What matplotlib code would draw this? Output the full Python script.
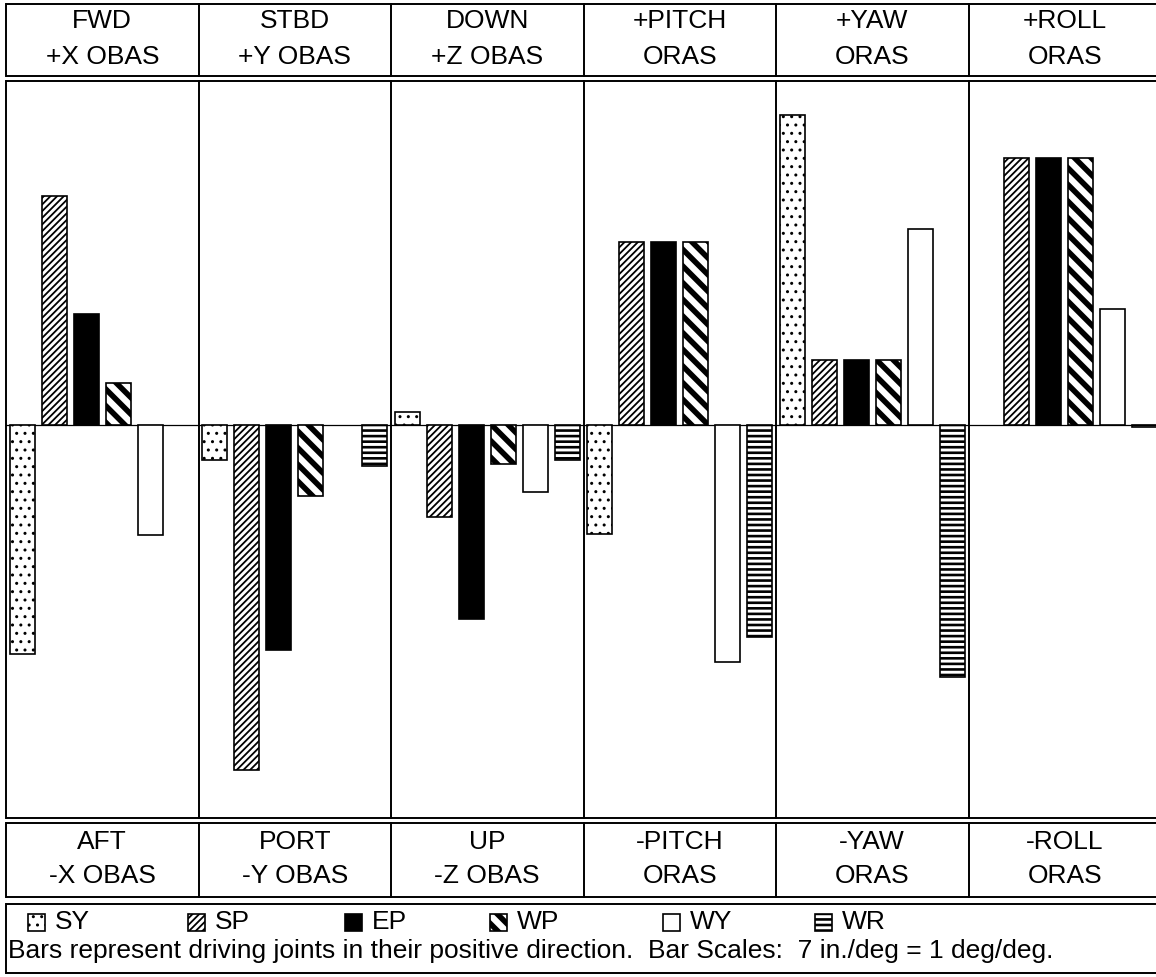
import numpy as np
import matplotlib.pyplot as plt
from matplotlib.patches import Rectangle

plt.rcParams['font.family'] = ['Liberation Sans', 'DejaVu Sans']

W, H = 1156, 977

joints = ['SY', 'SP', 'EP', 'WP', 'WY', 'WR']
top_labels = [('FWD', '+X OBAS'), ('STBD', '+Y OBAS'), ('DOWN', '+Z OBAS'),
              ('+PITCH', 'ORAS'), ('+YAW', 'ORAS'), ('+ROLL', 'ORAS')]
bottom_labels = [('AFT', '-X OBAS'), ('PORT', '-Y OBAS'), ('UP', '-Z OBAS'),
                 ('-PITCH', 'ORAS'), ('-YAW', 'ORAS'), ('-ROLL', 'ORAS')]

# bar length per joint, one value per panel (X, Y, Z, PITCH, YAW, ROLL)
# 0 = joint not drawn in that panel
SY = [-2.29, -0.35, 0.13, -1.09, 3.10, 0.0]
SP = [2.29, -3.45, -0.92, 1.83, 0.65, 2.67]
EP = [1.11, -2.25, -1.94, 1.83, 0.65, 2.67]
WP = [0.42, -0.71, -0.39, 1.83, 0.65, 2.67]
WY = [-1.10, 0.0, -0.67, -2.37, 1.96, 1.16]
WR = [0.0, -0.41, -0.35, -2.12, -2.52, -0.02]
values = [SY, SP, EP, WP, WY, WR]

note = 'Bars represent driving joints in their positive direction.  Bar Scales:  7 in./deg = 1 deg/deg.'

# fill / hatch / hatch line width for each joint
styles = {
    'SY': ('white', '..', 1.0),
    'SP': ('white', '/////', 1.3),
    'EP': ('black', None, 1.0),
    'WP': ('white', '\\\\', 4.0),
    'WY': ('white', None, 1.0),
    'WR': ('white', '---', 1.9),
}

# layout in pixels
x_left, x_right = 6, 1161
y_top = 4
y_head = (76, 81)
y_foot = (818, 823)
y_foot_bot = 897
y_leg = (904, 973)
panel_w = (x_right - x_left) / 6

fig = plt.figure(figsize=(W / 100, H / 100), dpi=100)

# bar area
ax = fig.add_axes([x_left / W, 1 - y_foot[0] / H, (x_right - x_left) / W,
                   (y_foot[0] - y_head[1]) / H])
ax.set_xlim(0, 36)
ax.set_ylim(-3.93, 3.44)
ax.axis('off')
ax.axhline(0, color='black', lw=0.9, zorder=1)

for j, name in enumerate(joints):
    fc, hatch, hlw = styles[name]
    x = np.arange(6) * 6 + j + 0.5
    h = np.array(values[j], dtype=float)
    h[h == 0] = np.nan
    with plt.rc_context({'hatch.linewidth': hlw, 'hatch.color': 'black'}):
        bars = ax.bar(x, h, width=0.78, color=fc, edgecolor='black',
                      linewidth=1.2, hatch=hatch, zorder=2)
    for b in bars:
        if hasattr(b, 'set_hatch_linewidth'):
            b.set_hatch_linewidth(hlw)

# overlay in pixel coordinates for the table frame, text and key
ov = fig.add_axes([0, 0, 1, 1])
ov.set_xlim(0, W)
ov.set_ylim(H, 0)
ov.axis('off')
ov.patch.set_alpha(0)

lw = 1.4
for y in [y_top, y_head[0], y_head[1], y_foot[0], y_foot[1], y_foot_bot, y_leg[0], y_leg[1]]:
    ov.plot([x_left, x_right], [y, y], color='black', lw=lw, solid_capstyle='butt')
for i in range(7):
    xd = x_left + i * panel_w
    for y0, y1 in [(y_top, y_head[0]), (y_head[1], y_foot[0]), (y_foot[1], y_foot_bot)]:
        ov.plot([xd, xd], [y0, y1], color='black', lw=lw)
ov.plot([x_left, x_left], [y_leg[0], y_leg[1]], color='black', lw=lw)

fs = 19
for i in range(6):
    xc = x_left + (i + 0.5) * panel_w
    ov.text(xc, 21, top_labels[i][0], ha='center', va='center', fontsize=fs)
    ov.text(xc, 57, top_labels[i][1], ha='center', va='center', fontsize=fs)
    ov.text(xc, 842, bottom_labels[i][0], ha='center', va='center', fontsize=fs)
    ov.text(xc, 876, bottom_labels[i][1], ha='center', va='center', fontsize=fs)

# key
key_x = [28, 188, 345, 490, 663, 815]
for j, name in enumerate(joints):
    fc, hatch, hlw = styles[name]
    with plt.rc_context({'hatch.linewidth': hlw, 'hatch.color': 'black'}):
        r = Rectangle((key_x[j], 914), 17, 17, facecolor=fc, edgecolor='black',
                      linewidth=1.2, hatch=hatch)
    if hasattr(r, 'set_hatch_linewidth'):
        r.set_hatch_linewidth(hlw)
    ov.add_patch(r)
    ov.text(key_x[j] + 27, 922, name, ha='left', va='center', fontsize=fs)
ov.text(8, 951, note, ha='left', va='center', fontsize=fs)

fig.savefig('out.png', dpi=100)
